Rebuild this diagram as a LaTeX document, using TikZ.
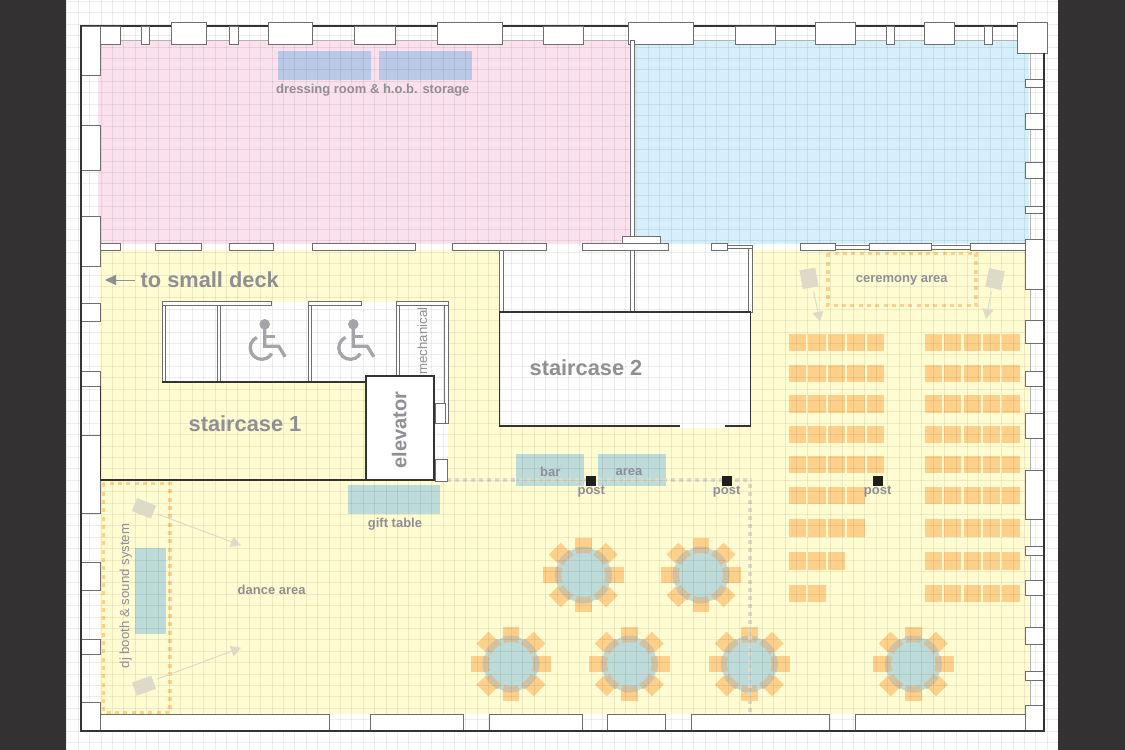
\documentclass[tikz,border=0pt]{standalone}
\usepackage{fontspec}
\setmainfont{Liberation Sans}
\usetikzlibrary{arrows.meta}
\definecolor{panelc}{HTML}{333132}
\definecolor{pinkz}{HTML}{FBE1ED}
\definecolor{bluez}{HTML}{D6EFFC}
\definecolor{yellowz}{HTML}{FFFCD2}
\definecolor{seatc}{HTML}{FFD08A}
\definecolor{tablec}{HTML}{BDDBD9}
\definecolor{dressc}{HTML}{BACAE6}
\definecolor{ringc}{HTML}{D3C2A0}
\definecolor{labelc}{HTML}{8F8F94}
\definecolor{speakerc}{HTML}{DDDBC8}
\definecolor{wallc}{HTML}{6E6E6E}
\tikzset{
  wallbox/.style={draw=wallc,fill=white,line width=0.8pt},
  darkwall/.style={draw=black!80,line width=1.3pt},
  seatbox/.style={fill=seatc,draw=none},
  bluebox/.style={fill=tablec,draw=none},
  dotarea/.style={draw=seatc,line width=3.3pt,dash pattern=on 4pt off 4.3pt},
  dotline/.style={draw=speakerc,line width=3.5pt,dash pattern=on 4pt off 4pt},
  speaker/.style={fill=speakerc,draw=none,minimum width=20.5pt,minimum height=14pt,inner sep=0pt},
  speakerb/.style={speaker,minimum width=16pt,minimum height=19pt},
  beam/.style={draw=speakerc,line width=1pt,-{Triangle[length=10pt,width=11pt]}},
  bigtext/.style={text=labelc,font=\bfseries\fontsize{21.8}{22}\selectfont,inner sep=0pt},
  smalltext/.style={text=labelc,font=\bfseries\fontsize{13}{13}\selectfont,inner sep=0pt},
  plaintext/.style={text=labelc,font=\fontsize{13.2}{14}\selectfont,inner sep=0pt},
  wheelchair/.pic={
    \fill[labelc!80] (0,0) circle (5.3);
    \draw[labelc!80,line width=3.3pt] (0,4) -- (0,22) -- (14,22) -- (20.5,32.5);
    \draw[labelc!80,line width=3.3pt] (0,12.5) -- (10,12.5);
    \draw[labelc!80,line width=3.3pt] (-3,23.5) ++(-115:11.5) arc (-115:-330:11.5);
  },
}
\newcommand{\wallrow}[3]{\foreach \a/\b in {#1} {\draw[wallbox] (\a,#2) rectangle (\b,#3);}}
\begin{document}
\begin{tikzpicture}[x=1pt,y=-1pt]
  \useasboundingbox (0,0) rectangle (1125,750);
  \fill[white] (0,0) rectangle (1125,750);
  % zones
  \fill[pinkz] (98,40) rectangle (631,244);
  \fill[bluez] (634,40) rectangle (1029,244);
  \fill[yellowz,even odd rule] (100,250) rectangle (1029,714)
    (500,250) -- (752,250) -- (752,312) -- (750,312) -- (750,426) -- (500,426) -- cycle
    (162,302) -- (448,302) -- (448,480) -- (434,480) -- (434,382) -- (162,382) -- cycle;
  \fill[white] (680,420) rectangle (725,428);
  % furniture
  \fill[dressc] (278,51) rectangle (371,80);
  \fill[dressc] (379,51) rectangle (472,80);
  \fill[bluebox] (515.7,454) rectangle (583.7,485.7);
  \fill[bluebox] (597.7,454) rectangle (666,485.7);
  \fill[bluebox] (347.7,485.3) rectangle (440.3,514);
  \fill[bluebox] (135.3,548.3) rectangle (166.3,633.7);
  % chairs
  \foreach \row/\num in {334/5,364.7/5,395.3/5,426/5,456/5,486.5/4,519.3/4,552.3/3,584.7/2} {
    \foreach \i in {1,...,\num} {
      \fill[seatbox] ({789+19.4*(\i-1)},\row) rectangle +(17.3,17.3);
    }
    \foreach \i in {1,...,5} {
      \fill[seatbox] ({924.7+19.4*(\i-1)},\row) rectangle +(17.3,17.3);
    }
  }
  % tables
  \foreach \cx/\cy in {583.3/575,701/575,511/664,629.3/664,749.3/664,913.3/664} {
    \begin{scope}[shift={(\cx,\cy)}]
      \foreach \ang in {0,45,...,315} {
        \node[seatbox,minimum size=16.7pt,inner sep=0pt,rotate=\ang] at (\ang:32 and 29) {};
      }
      \fill[tablec] (0,0) circle (27.5);
      \foreach \ang in {0,45,...,315} {
        \draw[ringc,line width=6.5pt] ({\ang-17.5}:25.3) arc ({\ang-17.5}:{\ang+17.5}:25.3);
      }
    \end{scope}
  }
  % dotted areas
  \draw[dotarea] (828,253.3) rectangle (976,305.7);
  \draw[dotarea] (103.3,483.3) rectangle (170,712.3);
  \draw[dotline] (447,480) -- (752,480);
  \draw[dotline] (750,484) -- (750,714);
  % grid
  \begin{scope}
    \clip (66,0) rectangle (1058,750);
    \foreach \k in {0,...,88} {\draw[black,opacity=0.07,line width=1pt] ({66.9+11.4*\k},0) -- ({66.9+11.4*\k},750);}
    \foreach \k in {0,...,65} {\draw[black,opacity=0.07,line width=1pt] (66,{1.5+11.4*\k}) -- (1058,{1.5+11.4*\k});}
  \end{scope}
  % panels
  \fill[panelc] (0,0) rectangle (66,750);
  \fill[panelc] (1058,0) rectangle (1125,750);
  % inner faint line of the walls
  \draw[black!30,line width=0.7pt] (100,40) -- (1030,40) -- (1030,714);
  % outer walls
  \draw[darkwall] (81,26) rectangle (1044,731);
  % top wall
  \wallrow{100.7/120.7,141.4/149.3,229.6/237.9,354.6/395,543.2/583.2,735.3/775.7,886.3/894.7,984/992.3}{26}{44}
  \wallrow{171.4/206.4,268/312.5,437.5/502,628.3/693,815/855,924.3/954.7}{22}{44}
  \draw[wallbox] (1017.7,22) rectangle (1047.7,53.3);
  % right wall
  \foreach \a/\b in {79.3/87.3,113.3/129.3,162.3/178,206/213.3,239.3/289.3,320.7/343.3,371.3/386.7,413.3/438.3,470.7/519.5,546.7/555,580/595.7,627.3/644.3,671/680,705.3/731} {
    \draw[wallbox] (1025.3,\a) rectangle (1044,\b);
  }
  % left wall
  \foreach \a/\b in {26/75.3,125.3/170,216/266.7,303.3/321,371.7/386,435/513,562.7/590,639.3/654.3,702.7/731} {
    \draw[wallbox] (81,\a) rectangle (100.7,\b);
  }
  % bottom wall
  \wallrow{100.7/329.3,370.7/463.3,489.7/582.3,607.7/665.3,691/829.3,855.7/1025.3}{714.5}{731}
  \draw[darkwall] (81,26) -- (81,731) -- (1044,731) -- (1044,53);
  % middle wall
  \wallrow{100.7/120.7,155.4/201.8,229.6/273.6,312.5/415.4,452.3/546.7,582.3/668.3,711.7/727.7,800.7/835,869/931.7,970/1025.3}{243.3}{250.7}
  \wallrow{835/869,931.7/970}{245}{249}
  \draw[wallbox] (622.3,236.7) rectangle (660.7,243.3);
  \draw[wallbox] (727.7,245) rectangle (752,248.5);
  \draw[wallbox] (748.3,248) rectangle (752,312);
  \draw[wallbox] (499.5,250.7) rectangle (503,312);
  \draw[wallbox] (630.5,250.7) rectangle (634,312);
  \draw[wallbox] (630.5,40) rectangle (634,236.7);
  % restrooms
  \draw[wallbox] (162,301) rectangle (271.5,305);
  \draw[wallbox] (308,301) rectangle (361.5,305);
  \draw[wallbox] (396,301) rectangle (448,305);
  \draw[wallbox] (162,305) rectangle (165.7,382);
  \draw[wallbox] (217,305) rectangle (220.5,382);
  \draw[wallbox] (308,305) rectangle (311.5,382);
  \draw[wallbox] (396,305) rectangle (399.5,376);
  \draw[wallbox] (444.5,305) rectangle (448,423);
  \draw[wallbox] (435,403) rectangle (445,423);
  \draw[wallbox] (435,459) rectangle (447,481);
  \pic at (264.7,324.3) {wheelchair};
  \pic at (353.3,324.3) {wheelchair};
  % staircases
  \draw[darkwall] (100.7,386) -- (100.7,480) -- (366,480);
  \draw[darkwall] (162,382) -- (366,382);
  \draw[darkwall,fill=white] (366,376) rectangle (434,480);
  \draw[darkwall] (680,426) -- (499.5,426) -- (499.5,312) -- (750.5,312) -- (750.5,426) -- (725,426);
  % posts
  \fill[black!88] (586,475.7) rectangle (596.3,486);
  \fill[black!88] (721.7,475.7) rectangle (732,486);
  \fill[black!88] (872.7,476) rectangle (883,486.3);
  % speakers
  \node[speakerb,rotate=10] (spka) at (809,278.3) {};
  \node[speakerb,rotate=-12] (spkb) at (995,279) {};
  \node[speaker,rotate=-22] (spkc) at (144,508.3) {};
  \node[speaker,rotate=20] (spkd) at (144,685.7) {};
  \coordinate (aima) at (820,321.7);
  \coordinate (aimb) at (986,319);
  \coordinate (aimc) at (241,545.3);
  \coordinate (aimd) at (241,647.7);
  \draw[beam] (813.7,291.7) -- (aima);
  \draw[beam] (991.3,291.7) -- (aimb);
  \draw[beam] (157.3,514) -- (aimc);
  \draw[beam] (157.3,679) -- (aimd);
  % labels
  \node[smalltext] (dress) at (372.8,90.3) {dressing room \& h.o.b. storage};
  \node[bigtext] (deck) at (209.7,279.3) {to small deck};
  \coordinate (deckend) at (105,280);
  \draw[labelc,line width=1pt,-{Triangle[length=11pt,width=10pt]}] (135,280) -- (deckend);
  \node[bigtext] (stairb) at (586,367.3) {staircase 2};
  \node[bigtext] (staira) at (245,423.3) {staircase 1};
  \node[bigtext,font=\bfseries\fontsize{20}{20}\selectfont,rotate=90] (elev) at (399.3,430) {elevator};
  \node[plaintext,rotate=90] (mech) at (422.3,341) {mechanical};
  \node[smalltext] at (901.7,280.7) {ceremony area};
  \node[smalltext] at (550.3,471.7) {bar};
  \node[smalltext] at (629,471.7) {area};
  \node[smalltext] at (591.3,491.7) {post};
  \node[smalltext] at (726.7,491.7) {post};
  \node[smalltext] at (877.7,491.7) {post};
  \node[smalltext] at (395,523.7) {gift table};
  \node[smalltext] at (271.7,590) {dance area};
  \node[plaintext,rotate=90] at (125.7,596) {dj booth \& sound system};
\end{tikzpicture}
\end{document}
